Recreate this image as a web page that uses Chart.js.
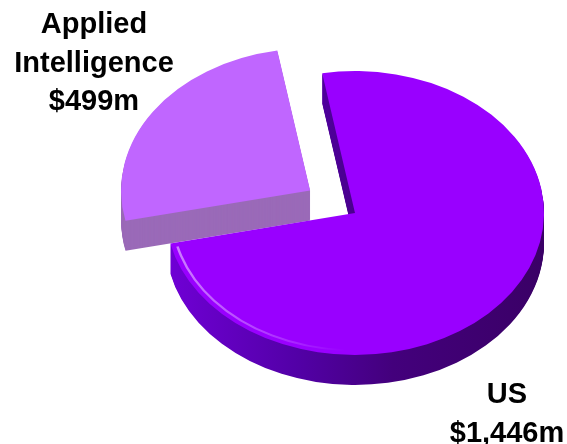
<!DOCTYPE html>
<html>
<head>
<meta charset="utf-8">
<script src="https://cdn.jsdelivr.net/npm/chart.js@4.4.0/dist/chart.umd.min.js"></script>
<style>
  html, body { margin: 0; padding: 0; background: #ffffff; }
  #wrap { width: 567px; height: 444px; }
</style>
</head>
<body>
<div id="wrap"><canvas id="pieChart" width="567" height="444"></canvas></div>
<script>
// ----- DATA -----
const segments = ['US', 'Applied Intelligence'];
const revenue = [1446, 499]; // $m

// ----- LOOK -----
const topColors = ['#9900FF', '#C066FF'];
const sideColors = [null, '#9A6AB8']; // US side uses a gradient below
const TILT = 0.751;   // vertical squash of the disc
const DEPTH = 30;     // thickness of the disc in px
const FONT = 'bold 29px "Liberation Sans", Arial, sans-serif';
const LINE_H = 38.5;

// label anchors: centre x, first baseline
const labelAnchors = [
    { x: 507, y: 403 },
    { x: 94, y: 33 }
];

function money(v) {
    return '$' + v.toLocaleString('en-US') + 'm';
}

function tilt(ctx, cy, dy) {
    ctx.translate(0, cy + dy);
    ctx.scale(1, TILT);
    ctx.translate(0, -cy);
}

// same geometry ArcElement uses (offset is applied /4 by the library)
function slicePath(ctx, arc) {
    const off = (arc.options.offset || 0) / 4;
    const mid = (arc.startAngle + arc.endAngle) / 2;
    const x = arc.x + Math.cos(mid) * off;
    const y = arc.y + Math.sin(mid) * off;
    ctx.beginPath();
    ctx.moveTo(x, y);
    ctx.arc(x, y, arc.outerRadius, arc.startAngle, arc.endAngle);
    ctx.closePath();
}

const tiltPlugin = {
    id: 'tilt3d',
    beforeDatasetsDraw(chart) {
        const ctx = chart.ctx;
        const arcs = chart.getDatasetMeta(0).data;
        const cy = arcs[0].y;
        const cx = arcs[0].x;
        const r = arcs[0].outerRadius;

        const usSide = ctx.createLinearGradient(cx - r, 0, cx + r, 0);
        usSide.addColorStop(0, '#7000D6');
        usSide.addColorStop(0.35, '#5200A6');
        usSide.addColorStop(0.6, '#43007C');
        usSide.addColorStop(1, '#3A0066');

        // side walls, back slice first
        [1, 0].forEach(i => {
            const arc = arcs[i];
            const fill = i === 0 ? usSide : sideColors[i];
            for (let d = DEPTH; d > 0; d--) {
                ctx.save();
                tilt(ctx, cy, d);
                slicePath(ctx, arc);
                ctx.fillStyle = fill;
                ctx.fill();
                ctx.restore();
            }
        });

        ctx.save();
        tilt(ctx, cy, 0);
    },
    afterDatasetsDraw(chart) {
        const ctx = chart.ctx;
        const us = chart.getDatasetMeta(0).data[0];
        const r = us.outerRadius;

        // soft highlight along the front-left rim, fading toward the front
        const hi = ctx.createLinearGradient(us.x - r, 0, us.x - 10, 0);
        hi.addColorStop(0, 'rgba(210,140,255,0.95)');
        hi.addColorStop(1, 'rgba(210,140,255,0)');
        ctx.beginPath();
        ctx.arc(us.x, us.y, r - 6, Math.PI * 0.4, us.endAngle - 0.03);
        ctx.strokeStyle = hi;
        ctx.lineWidth = 2.5;
        ctx.stroke();

        ctx.restore();
    }
};

const labelPlugin = {
    id: 'sliceLabels',
    afterDraw(chart) {
        const ctx = chart.ctx;
        ctx.save();
        ctx.font = FONT;
        ctx.fillStyle = '#000000';
        ctx.textAlign = 'center';
        ctx.textBaseline = 'alphabetic';
        segments.forEach((name, i) => {
            const lines = name.split(' ').concat(money(revenue[i]));
            const a = labelAnchors[i];
            lines.forEach((t, j) => ctx.fillText(t, a.x, a.y + j * LINE_H));
        });
        ctx.restore();
    }
};

new Chart(document.getElementById('pieChart').getContext('2d'), {
    type: 'pie',
    data: {
        labels: segments,
        datasets: [{
            data: revenue,
            backgroundColor: topColors,
            borderWidth: 0,
            offset: [0, 216],
            clip: false
        }]
    },
    options: {
        responsive: false,
        animation: false,
        events: [],
        rotation: -10,
        radius: 189,
        layout: { padding: { left: 150, right: 7, top: 0, bottom: 18 } },
        plugins: { legend: { display: false }, tooltip: { enabled: false } }
    },
    plugins: [tiltPlugin, labelPlugin]
});
</script>
</body>
</html>
